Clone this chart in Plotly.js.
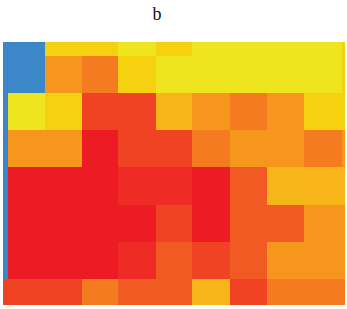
<!DOCTYPE html>
<html>
<head>
<meta charset="utf-8">
<script src="https://cdn.plot.ly/plotly-3.0.1.min.js"></script>
<style>html,body{margin:0;padding:0;background:#fff;}#chart{width:347px;height:309px;}</style>
</head>
<body>
<div id="chart"></div>
<script>
// Cell bin edges (heatmap bricks, non-uniform)
const xEdges = [3, 8, 45, 82, 118, 156, 192, 230, 267, 304, 342, 345];
const yEdges = [42, 56, 93, 130, 167, 205, 242, 279, 305];

// Level colours (0 = blue, 1 = red ... 9 = yellow)
const levelColors = ['#3b87c7', '#ed1c24', '#ee2b24', '#ef4323', '#f15a22',
                     '#f47b20', '#f7961d', '#f6b519', '#f6d10f', '#eee51f'];

// Cell levels, rows top to bottom
const row0 = [0, 0, 8, 8, 9, 8, 9, 9, 9, 9, 8];
const row1 = [0, 0, 6, 5, 8, 9, 9, 9, 9, 9, 8];
const row2 = [0, 9, 8, 3, 3, 7, 6, 5, 6, 8, 8];
const row3 = [0, 6, 6, 1, 3, 3, 5, 6, 6, 5, 6];
const row4 = [0, 1, 1, 1, 2, 2, 1, 4, 7, 7, 7];
const row5 = [0, 1, 1, 1, 1, 3, 1, 4, 4, 6, 6];
const row6 = [0, 1, 1, 1, 2, 4, 3, 4, 6, 6, 6];
const row7 = [3, 3, 3, 5, 4, 4, 7, 3, 5, 5, 5];

const z = [row0, row1, row2, row3, row4, row5, row6, row7];
const n = levelColors.length - 1;
const colorscale = levelColors.map((c, i) => [i / n, c]);

const trace = {
  type: 'heatmap',
  x: xEdges,
  y: yEdges,
  z: z,
  zmin: 0,
  zmax: n,
  colorscale: colorscale,
  showscale: false,
  hoverinfo: 'skip'
};

const axisBase = {showgrid: false, zeroline: false, showticklabels: false, ticks: '', showline: false};

const layout = {
  width: 347,
  height: 309,
  margin: {l: 3, r: 2, t: 42, b: 4, pad: 0},
  paper_bgcolor: '#ffffff',
  plot_bgcolor: '#ffffff',
  title: {
    text: 'b',
    font: {family: 'Liberation Serif, Times New Roman, serif', size: 18, color: '#111111'},
    xref: 'container', x: 157 / 347, xanchor: 'center',
    yref: 'container', y: 1 - 14 / 309, yanchor: 'middle'
  },
  xaxis: Object.assign({range: [3, 345]}, axisBase),
  yaxis: Object.assign({range: [305, 42]}, axisBase)
};

Plotly.newPlot('chart', [trace], layout, {displayModeBar: false, staticPlot: true});
</script>
</body>
</html>
